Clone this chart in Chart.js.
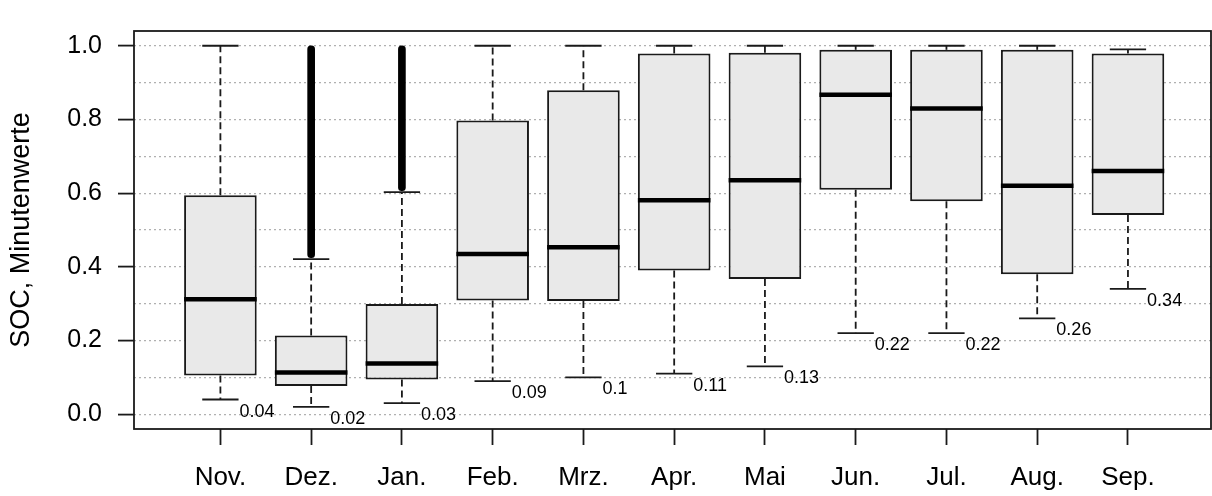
<!DOCTYPE html>
<html>
<head>
<meta charset="utf-8">
<script src="https://cdn.jsdelivr.net/npm/chart.js@4"></script>
<style>
  body { margin: 0; background: #fff; }
</style>
</head>
<body>
<canvas id="boxChart" width="1212" height="496"></canvas>
<script>
/* monthly SOC boxplot */

const months = ["Nov.", "Dez.", "Jan.", "Feb.", "Mrz.", "Apr.", "Mai", "Jun.", "Jul.", "Aug.", "Sep."];
const whiskerLow = [0.04, 0.02, 0.03, 0.09, 0.1, 0.11, 0.13, 0.22, 0.22, 0.26, 0.34];
const q1 = [0.105, 0.077, 0.094, 0.309, 0.307, 0.390, 0.367, 0.609, 0.578, 0.380, 0.541];
const median = [0.312, 0.113, 0.138, 0.435, 0.453, 0.581, 0.635, 0.867, 0.830, 0.620, 0.660];
const q3 = [0.594, 0.214, 0.299, 0.797, 0.879, 0.979, 0.981, 0.989, 0.989, 0.989, 0.979];
const whiskerHigh = [1.0, 0.421, 0.603, 1.0, 1.0, 1.0, 1.0, 1.0, 1.0, 1.0, 0.99];
// outliers are so dense they form a solid column
const outlierLow = [null, 0.425, 0.607, null, null, null, null, null, null, null, null];
const outlierHigh = [null, 1.0, 1.0, null, null, null, null, null, null, null, null];
const yGrid = [0, 0.1, 0.2, 0.3, 0.4, 0.5, 0.6, 0.7, 0.8, 0.9, 1.0];

const FONT = "'Liberation Sans', Arial, sans-serif";
const INK = "#1a1a1a";

const isMajor = v => Math.round(v * 10) % 2 === 0;

let boxData = months.map((m, i) => ({ x: i + 1, y: [q1[i], q3[i]] }));
let outlierData = [];
for (let i = 0; i < months.length; i++) {
    if (outlierLow[i] !== null) outlierData.push({ x: i + 1, y: [outlierLow[i], outlierHigh[i]] });
}

const boxExtras = {
    id: 'boxExtras',
    afterDatasetsDraw(chart) {
        const { ctx, chartArea, scales: { x, y } } = chart;
        const half = (x.getPixelForValue(2) - x.getPixelForValue(1)) * 0.4;
        const capHalf = half / 2;
        const seg = (x1, y1, x2, y2) => {
            ctx.beginPath();
            ctx.moveTo(x1, y1);
            ctx.lineTo(x2, y2);
            ctx.stroke();
        };
        ctx.save();
        months.forEach((m, i) => {
            const cx = x.getPixelForValue(i + 1);
            const yLo = y.getPixelForValue(whiskerLow[i]);
            const yHi = y.getPixelForValue(whiskerHigh[i]);

            // dashed whiskers
            ctx.strokeStyle = INK;
            ctx.lineWidth = 1.8;
            ctx.setLineDash([7, 4]);
            seg(cx, y.getPixelForValue(q3[i]), cx, yHi);
            seg(cx, y.getPixelForValue(q1[i]), cx, yLo);
            ctx.setLineDash([]);

            // staples
            seg(cx - capHalf, yHi, cx + capHalf, yHi);
            seg(cx - capHalf, yLo, cx + capHalf, yLo);

            // median
            ctx.strokeStyle = "#000";
            ctx.lineWidth = 4.5;
            const ym = y.getPixelForValue(median[i]);
            seg(cx - half, ym, cx + half, ym);

            // lower whisker value
            ctx.fillStyle = "#000";
            ctx.font = "18px " + FONT;
            ctx.textAlign = "left";
            ctx.textBaseline = "alphabetic";
            ctx.fillText(String(whiskerLow[i]), cx + capHalf + 1, yLo + 17);
        });

        // plot frame
        ctx.strokeStyle = INK;
        ctx.lineWidth = 1.8;
        ctx.strokeRect(chartArea.left, chartArea.top, chartArea.right - chartArea.left, chartArea.bottom - chartArea.top);
        ctx.restore();
    }
};

const CHART = document.getElementById("boxChart");
let boxChart = new Chart(CHART, {
    type: 'bar',
    data: {
        datasets: [
            {
                label: "Box",
                data: boxData,
                backgroundColor: "#e9e9e9",
                borderColor: INK,
                borderWidth: 2,
                borderSkipped: false,
                grouped: false,
                categoryPercentage: 1,
                barPercentage: 0.8,
                order: 2
            },
            {
                label: "Ausreißer",
                data: outlierData,
                backgroundColor: "#000",
                borderWidth: 0,
                borderRadius: 3.5,
                borderSkipped: false,
                grouped: false,
                barThickness: 7,
                order: 1
            }
        ]
    },
    options: {
        responsive: false,
        animation: false,
        layout: { padding: { top: 10, right: 1, left: 0, bottom: 0 } },
        plugins: {
            legend: { display: false },
            tooltip: { enabled: false }
        },
        scales: {
            x: {
                type: 'linear',
                min: 0.048,
                max: 11.915,
                offset: false,
                afterBuildTicks: s => { s.ticks = months.map((m, i) => ({ value: i + 1 })); },
                afterFit: s => { s.height = 67; },
                ticks: {
                    callback: v => months[Math.round(v) - 1],
                    autoSkip: false,
                    maxRotation: 0,
                    padding: 17,
                    color: "#000",
                    font: { family: FONT, size: 26 }
                },
                grid: {
                    offset: false,
                    drawOnChartArea: false,
                    tickLength: 16,
                    tickColor: INK,
                    tickWidth: 1.8
                },
                border: { display: false }
            },
            y: {
                min: -0.04,
                max: 1.04,
                afterBuildTicks: s => { s.ticks = yGrid.map(v => ({ value: v })); },
                afterFit: s => { s.width = 134; },
                ticks: {
                    callback: v => isMajor(v) ? v.toFixed(1) : '',
                    padding: 16,
                    color: "#000",
                    font: { family: FONT, size: 25 }
                },
                grid: {
                    color: "#b0b0b0",
                    lineWidth: 1.2,
                    tickLength: 16,
                    tickColor: c => isMajor(c.tick.value) ? INK : "rgba(0,0,0,0)",
                    tickWidth: 1.8
                },
                border: { display: false, dash: [2, 3] },
                title: {
                    display: true,
                    text: "SOC, Minutenwerte",
                    color: "#000",
                    font: { family: FONT, size: 27 },
                    padding: { top: 5, bottom: 0 }
                }
            }
        }
    },
    plugins: [boxExtras]
});
</script>
</body>
</html>
